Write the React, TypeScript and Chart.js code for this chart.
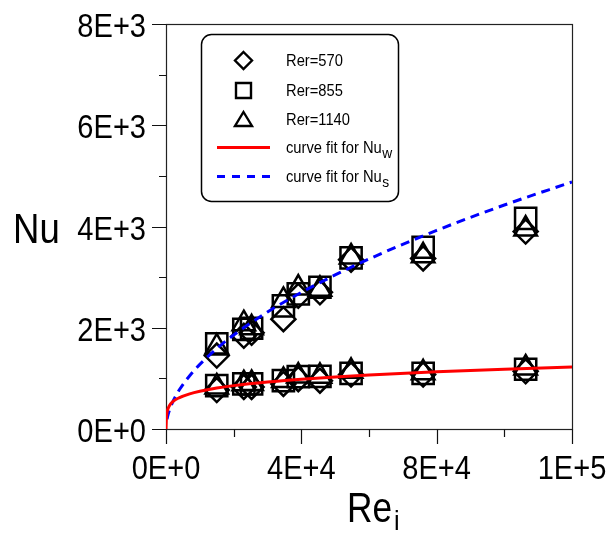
import React, { useEffect, useRef } from 'react';
import { Chart, registerables } from 'chart.js';

Chart.register(...registerables);

// ---- data ----
const reValues = [15000, 23000, 25300, 34700, 39100, 45500, 54700, 76000, 106300];

// wall Nusselt number (lower group)
const nuW570 = [770, 830, 830, 890, 985, 955, 1075, 1075, 1140];
const nuW855 = [855, 890, 890, 955, 1035, 1040, 1100, 1100, 1180];
const nuW1140 = [830, 895, 900, 960, 1045, 1040, 1140, 1110, 1205];

// surface Nusselt number (upper group)
const nuS570 = [1450, 1840, 1900, 2170, 2630, 2700, 3345, 3370, 3900];
const nuS855 = [1680, 1970, 1990, 2430, 2670, 2800, 3380, 3590, 4160];
const nuS1140 = [1620, 2080, 2000, 2540, 2785, 2760, 3400, 3420, 3950];

// curve fits
const fitReW = [0, 100, 300, 600, 1000, 2000, 4000, 7000, 10000, 15000, 20000, 30000, 40000, 50000, 60000, 80000, 100000, 120000];
const fitNuW = [0, 200, 330, 400, 460, 541, 621, 695, 746, 809, 857, 929, 984, 1029, 1067, 1130, 1182, 1226];
const fitReS = [300, 500, 1000, 2000, 4000, 7000, 10000, 15000, 20000, 30000, 40000, 50000, 60000, 80000, 100000, 120000];
const fitNuS = [192, 253, 368, 535, 779, 1053, 1276, 1589, 1856, 2311, 2699, 3043, 3358, 3923, 4424, 4880];

// axes
const xMin = 0;
const xMax = 120000;
const yMin = 0;
const yMax = 8000;
const xTickValues = [0, 40000, 80000, 120000];
const xTickLabels = ['0E+0', '4E+4', '8E+4', '1E+5'];
const xMinorTicks = [20000, 60000, 100000];
const yTickValues = [0, 2000, 4000, 6000, 8000];
const yTickLabels = ['0E+0', '2E+3', '4E+3', '6E+3', '8E+3'];
const yMinorTicks = [1000, 3000, 5000, 7000];

const seriesLabels = ['Rer=570', 'Rer=855', 'Rer=1140'];
const curveLabel = 'curve fit for Nu';
const curveSubs = ['w', 's'];
const yTitle = 'Nu';
const xTitle = 'Re';
const xTitleSub = 'i';

const FONT = 'Arial, "Liberation Sans", sans-serif';

function pts(xs: number[], ys: number[]) {
  return xs.map((x, i) => ({ x, y: ys[i] }));
}

function drawText(
  ctx: CanvasRenderingContext2D,
  text: string,
  x: number,
  y: number,
  size: number,
  align: CanvasTextAlign,
  sx: number
) {
  ctx.save();
  ctx.font = `${size}px ${FONT}`;
  ctx.textAlign = align;
  ctx.textBaseline = 'alphabetic';
  ctx.fillStyle = '#000';
  ctx.translate(x, y);
  ctx.scale(sx, 1);
  ctx.fillText(text, 0, 0);
  const w = ctx.measureText(text).width * sx;
  ctx.restore();
  return w;
}

const decorPlugin = {
  id: 'decor',
  beforeDatasetsDraw(chart: any) {
    const ctx: CanvasRenderingContext2D = chart.ctx;
    const { left, right, top, bottom } = chart.chartArea;
    const xs = chart.scales.x;
    const ys = chart.scales.y;

    ctx.save();
    // frame
    ctx.strokeStyle = '#222';
    ctx.lineWidth = 1.2;
    ctx.strokeRect(left + 0.5, top + 0.5, right - left, bottom - top);

    // ticks
    ctx.strokeStyle = '#111';
    ctx.lineWidth = 1.2;
    ctx.beginPath();
    yTickValues.forEach((v) => {
      const y = Math.round(ys.getPixelForValue(v)) + 0.5;
      ctx.moveTo(left + 0.5, y);
      ctx.lineTo(left - 14, y);
    });
    yMinorTicks.forEach((v) => {
      const y = Math.round(ys.getPixelForValue(v)) + 0.5;
      ctx.moveTo(left + 0.5, y);
      ctx.lineTo(left - 7, y);
    });
    xTickValues.forEach((v) => {
      const x = Math.round(xs.getPixelForValue(v)) + 0.5;
      ctx.moveTo(x, bottom + 0.5);
      ctx.lineTo(x, bottom + 15);
    });
    xMinorTicks.forEach((v) => {
      const x = Math.round(xs.getPixelForValue(v)) + 0.5;
      ctx.moveTo(x, bottom + 0.5);
      ctx.lineTo(x, bottom + 8);
    });
    ctx.stroke();
    ctx.restore();
  },
  afterDraw(chart: any) {
    const ctx: CanvasRenderingContext2D = chart.ctx;
    const { left, bottom } = chart.chartArea;
    const xs = chart.scales.x;
    const ys = chart.scales.y;

    ctx.save();
    // tick labels
    yTickValues.forEach((v, i) => {
      const y = ys.getPixelForValue(v);
      drawText(ctx, yTickLabels[i], left - 20, y + 13, 33, 'right', 0.88);
    });
    xTickValues.forEach((v, i) => {
      const x = xs.getPixelForValue(v);
      drawText(ctx, xTickLabels[i], x, bottom + 50, 33, 'center', 0.88);
    });

    // axis titles
    drawText(ctx, yTitle, 13, 243, 42, 'left', 0.87);
    const wRe = drawText(ctx, xTitle, 347, 522, 42, 'left', 0.84);
    drawText(ctx, xTitleSub, 347 + wRe + 2, 530, 28, 'left', 0.9);

    // legend box
    ctx.strokeStyle = '#000';
    ctx.lineWidth = 1.5;
    ctx.beginPath();
    (ctx as any).roundRect(201.5, 34.5, 197, 167, 10);
    ctx.stroke();

    const mx = 243.5;
    const rows = [60.5, 90.5, 119.5, 147.5, 176.5];
    ctx.lineWidth = 2.4;
    ctx.strokeStyle = '#000';
    // diamond
    ctx.beginPath();
    ctx.moveTo(mx, rows[0] - 8.5);
    ctx.lineTo(mx + 8.5, rows[0]);
    ctx.lineTo(mx, rows[0] + 8.5);
    ctx.lineTo(mx - 8.5, rows[0]);
    ctx.closePath();
    ctx.stroke();
    // square
    ctx.beginPath();
    ctx.rect(mx - 7.5, rows[1] - 7.5, 15, 15);
    ctx.stroke();
    // triangle
    ctx.beginPath();
    ctx.moveTo(mx, rows[2] - 7.5);
    ctx.lineTo(mx + 8.5, rows[2] + 6.5);
    ctx.lineTo(mx - 8.5, rows[2] + 6.5);
    ctx.closePath();
    ctx.stroke();
    // red line
    ctx.lineWidth = 3;
    ctx.strokeStyle = '#ff0000';
    ctx.beginPath();
    ctx.moveTo(217, rows[3]);
    ctx.lineTo(270, rows[3]);
    ctx.stroke();
    // blue dashed
    ctx.strokeStyle = '#0000ff';
    ctx.setLineDash([8, 7]);
    ctx.beginPath();
    ctx.moveTo(217, rows[4]);
    ctx.lineTo(270, rows[4]);
    ctx.stroke();
    ctx.setLineDash([]);

    const tx = 286;
    seriesLabels.forEach((s, i) => {
      drawText(ctx, s, tx, rows[i] + 5.5, 16, 'left', 0.92);
    });
    curveSubs.forEach((sub, i) => {
      const w = drawText(ctx, curveLabel, tx, rows[3 + i] + 5.5, 16, 'left', 0.92);
      drawText(ctx, sub, tx + w + 0.5, rows[3 + i] + 10, 15, 'left', 0.92);
    });
    ctx.restore();
  },
};

export default function App() {
  const ref = useRef<HTMLCanvasElement>(null);

  useEffect(() => {
    const markerBase = {
      showLine: false,
      borderColor: '#000',
      backgroundColor: 'rgba(0,0,0,0)',
      borderWidth: 2.5,
      order: 2,
    };
    const chart = new Chart(ref.current as HTMLCanvasElement, {
      type: 'scatter',
      data: {
        datasets: [
          { ...markerBase, label: seriesLabels[0] + ' w', data: pts(reValues, nuW570), pointStyle: 'rectRot', pointRadius: 12 },
          { ...markerBase, label: seriesLabels[0] + ' s', data: pts(reValues, nuS570), pointStyle: 'rectRot', pointRadius: 12 },
          { ...markerBase, label: seriesLabels[1] + ' w', data: pts(reValues, nuW855), pointStyle: 'rect', pointRadius: 15 },
          { ...markerBase, label: seriesLabels[1] + ' s', data: pts(reValues, nuS855), pointStyle: 'rect', pointRadius: 15 },
          { ...markerBase, label: seriesLabels[2] + ' w', data: pts(reValues, nuW1140), pointStyle: 'triangle', pointRadius: 13 },
          { ...markerBase, label: seriesLabels[2] + ' s', data: pts(reValues, nuS1140), pointStyle: 'triangle', pointRadius: 13 },
          {
            label: curveLabel + curveSubs[0],
            data: pts(fitReW, fitNuW),
            showLine: true,
            pointRadius: 0,
            borderColor: '#ff0000',
            borderWidth: 3,
            cubicInterpolationMode: 'monotone',
            order: 0,
          },
          {
            label: curveLabel + curveSubs[1],
            data: pts(fitReS, fitNuS),
            showLine: true,
            pointRadius: 0,
            borderColor: '#0000ff',
            borderWidth: 3,
            borderDash: [9, 6],
            cubicInterpolationMode: 'monotone',
            order: 1,
          },
        ],
      },
      options: {
        responsive: false,
        animation: false,
        events: [],
        layout: { padding: { left: 166, right: 37, top: 24, bottom: 104 } },
        plugins: { legend: { display: false }, tooltip: { enabled: false } },
        scales: {
          x: { type: 'linear', display: false, min: xMin, max: xMax },
          y: { type: 'linear', display: false, min: yMin, max: yMax },
        },
      } as any,
      plugins: [decorPlugin],
    } as any);
    return () => chart.destroy();
  }, []);

  return (
    <div style={{ position: 'fixed', left: 0, top: 0, width: 609, height: 533, background: '#fff' }}>
      <canvas ref={ref} width={609} height={533} style={{ display: 'block' }} />
    </div>
  );
}
